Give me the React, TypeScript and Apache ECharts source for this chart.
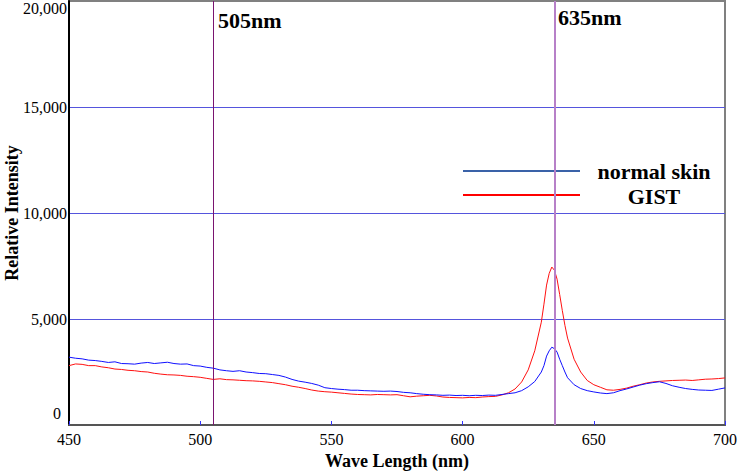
import React, { useEffect, useRef } from "react";
import * as echarts from "echarts";

const wavelengths = [
  450, 452.5, 455, 457.5, 460, 462.5, 465, 467.5, 470, 472.5,
  475, 477.5, 480, 482.5, 485, 487.5, 490, 492.5, 495, 497.5,
  500, 502.5, 505, 507.5, 510, 512.5, 515, 517.5, 520, 522.5,
  525, 527.5, 530, 532.5, 535, 537.5, 540, 542.5, 545, 547.5,
  550, 552.5, 555, 557.5, 560, 562.5, 565, 567.5, 570, 572.5,
  575, 577.5, 580, 582.5, 585, 587.5, 590, 592.5, 595, 597.5,
  600, 602.5, 605, 607.5, 610, 612.5, 615, 617.5, 620, 622.5,
  625, 627.5, 630, 631, 632, 633, 634, 635, 636, 637,
  638, 639, 640, 642.5, 645, 647.5, 650, 652.5, 655, 657.5,
  660, 662.5, 665, 667.5, 670, 672.5, 675, 677.5, 680, 682.5,
  685, 687.5, 690, 692.5, 695, 697.5, 700,
];

const normalSkin = [
  3200, 3150, 3120, 3060, 3040, 3000, 2950, 2980, 2900, 2890,
  2870, 2920, 2950, 2900, 2930, 2960, 2900, 2870, 2880, 2800,
  2780, 2720, 2680, 2600, 2560, 2530, 2560, 2500, 2470, 2430,
  2420, 2380, 2340, 2260, 2150, 2070, 2020, 1960, 1880, 1760,
  1720, 1690, 1670, 1640, 1640, 1620, 1610, 1600, 1590, 1600,
  1580, 1540, 1520, 1480, 1450, 1430, 1420, 1400, 1410, 1390,
  1400, 1380, 1400, 1390, 1410, 1400, 1440, 1480, 1520, 1620,
  1800, 2050, 2500, 2800, 3250, 3500, 3670, 3600, 3440, 3100,
  2800, 2500, 2230, 1900, 1720, 1620, 1560, 1510, 1480, 1520,
  1620, 1700, 1790, 1880, 1950, 2000, 2040, 1960, 1850, 1780,
  1720, 1680, 1650, 1640, 1630, 1690, 1750,
];

const gist = [
  2800, 2880, 2860, 2800, 2800, 2740, 2700, 2640, 2620, 2580,
  2560, 2520, 2500, 2440, 2400, 2370, 2360, 2340, 2300, 2280,
  2250, 2200, 2150, 2180, 2140, 2130, 2110, 2090, 2080, 2060,
  2030, 2000, 1950, 1900, 1830, 1780, 1720, 1650, 1600, 1570,
  1550, 1520, 1490, 1460, 1440, 1430, 1420, 1440, 1430, 1420,
  1430, 1380, 1330, 1360, 1380, 1400, 1370, 1320, 1300, 1290,
  1280, 1300, 1290, 1320, 1340, 1350, 1420, 1520, 1700, 2030,
  2600, 3500, 4850, 5700, 6600, 7150, 7450, 7300, 6880, 6150,
  5400, 4700, 4100, 3100, 2500, 2100, 1900, 1780, 1660, 1640,
  1680, 1740, 1830, 1900, 1980, 2030, 2060, 2080, 2100, 2110,
  2120, 2100, 2130, 2160, 2170, 2190, 2220,
];

const seriesNames = ["normal skin", "GIST"];
const markers = [505, 635];
const markerLabels = ["505nm", "635nm"];
const yTicks = [0, 5000, 10000, 15000, 20000];

const FONT = "Liberation Serif";

export default function App() {
  const ref = useRef<HTMLDivElement>(null);

  useEffect(() => {
    if (!ref.current) return;
    const chart = echarts.init(ref.current, null, { renderer: "svg" });
    const blueData = wavelengths.map((w, i) => [w, normalSkin[i]]);
    const redData = wavelengths.map((w, i) => [w, gist[i]]);
    const fmt = (v: number) => v.toLocaleString("en-US");

    chart.setOption({
      animation: false,
      backgroundColor: "#ffffff",
      textStyle: { fontFamily: FONT },
      grid: {
        left: 69,
        right: 15,
        top: 1,
        bottom: 47,
        containLabel: false,
        outerBoundsMode: "none",
        show: true,
        borderColor: "#808080",
        borderWidth: 2,
        backgroundColor: "transparent",
      },
      xAxis: {
        type: "value",
        min: 450,
        max: 700,
        interval: 50,
        name: "Wave Length (nm)",
        nameLocation: "middle",
        nameGap: 27,
        nameMoveOverlap: false,
        nameTextStyle: {
          fontFamily: FONT,
          fontWeight: "bold",
          fontSize: 18,
          color: "#000",
        },
        axisLine: { show: true, lineStyle: { color: "#555555", width: 2 } },
        axisTick: {
          show: true,
          inside: true,
          length: 4,
          lineStyle: { color: "#3333ff", width: 1 },
        },
        axisLabel: {
          fontFamily: FONT,
          fontSize: 16,
          color: "#000",
          margin: 6,
        },
        splitLine: { show: false },
      },
      yAxis: {
        type: "value",
        min: 0,
        max: 20000,
        interval: 5000,
        name: "Relative Intensity",
        nameLocation: "middle",
        nameGap: 48,
        nameMoveOverlap: false,
        nameTextStyle: {
          fontFamily: FONT,
          fontWeight: "bold",
          fontSize: 18,
          color: "#000",
        },
        axisLine: { show: true, lineStyle: { color: "#000000", width: 2 } },
        axisTick: { show: false },
        axisLabel: {
          fontFamily: FONT,
          fontSize: 16,
          color: "#000",
          margin: 2,
          formatter: (v: number) =>
            v === yTicks[0] || v === yTicks[yTicks.length - 1] ? "" : fmt(v),
        },
        splitLine: {
          show: true,
          lineStyle: {
            color: ["transparent", "#5555dd", "#5555dd", "#5555dd", "transparent"],
            width: 1,
          },
        },
      },
      series: [
        {
          name: seriesNames[0],
          type: "line",
          data: blueData,
          symbol: "none",
          lineStyle: { color: "#1010ff", width: 1 },
          z: 3,
          markLine: {
            silent: true,
            symbol: ["none", "none"],
            label: { show: false },
            data: [
              { xAxis: markers[0], lineStyle: { color: "#7a1470", width: 1, type: "solid" } },
              { xAxis: markers[1], lineStyle: { color: "#b780c8", width: 2, type: "solid" } },
            ],
          },
        },
        {
          name: seriesNames[1],
          type: "line",
          data: redData,
          symbol: "none",
          lineStyle: { color: "#ff1010", width: 1 },
          z: 2,
        },
      ],
      graphic: [
        {
          type: "text",
          left: 218,
          top: 9,
          style: {
            text: markerLabels[0],
            fontFamily: FONT,
            fontWeight: "bold",
            fontSize: 22,
            fill: "#000",
          },
        },
        {
          type: "text",
          left: 558,
          top: 6,
          style: {
            text: markerLabels[1],
            fontFamily: FONT,
            fontWeight: "bold",
            fontSize: 22,
            fill: "#000",
          },
        },
        {
          type: "line",
          shape: { x1: 463, y1: 171, x2: 580, y2: 171 },
          style: { stroke: "#3a62a8", lineWidth: 2 },
        },
        {
          type: "line",
          shape: { x1: 463, y1: 195, x2: 580, y2: 195 },
          style: { stroke: "#ff0000", lineWidth: 2 },
        },
        {
          type: "text",
          x: 654,
          y: 171,
          style: {
            text: seriesNames[0],
            fontFamily: FONT,
            fontWeight: "bold",
            fontSize: 22,
            fill: "#000",
            align: "center",
            verticalAlign: "middle",
          },
        },
        {
          type: "text",
          x: 654,
          y: 196,
          style: {
            text: seriesNames[1],
            fontFamily: FONT,
            fontWeight: "bold",
            fontSize: 22,
            fill: "#000",
            align: "center",
            verticalAlign: "middle",
          },
        },
        {
          type: "text",
          x: 61,
          y: 413,
          style: {
            text: String(yTicks[0]),
            fontFamily: FONT,
            fontSize: 16,
            fill: "#000",
            align: "right",
            verticalAlign: "middle",
          },
        },
        {
          type: "text",
          x: 67,
          y: 8,
          style: {
            text: fmt(yTicks[yTicks.length - 1]),
            fontFamily: FONT,
            fontSize: 16,
            fill: "#000",
            align: "right",
            verticalAlign: "middle",
          },
        },
      ],
    });

    return () => chart.dispose();
  }, []);

  return (
    <div
      ref={ref}
      style={{ position: "absolute", left: 0, top: 0, width: 740, height: 472 }}
    />
  );
}
